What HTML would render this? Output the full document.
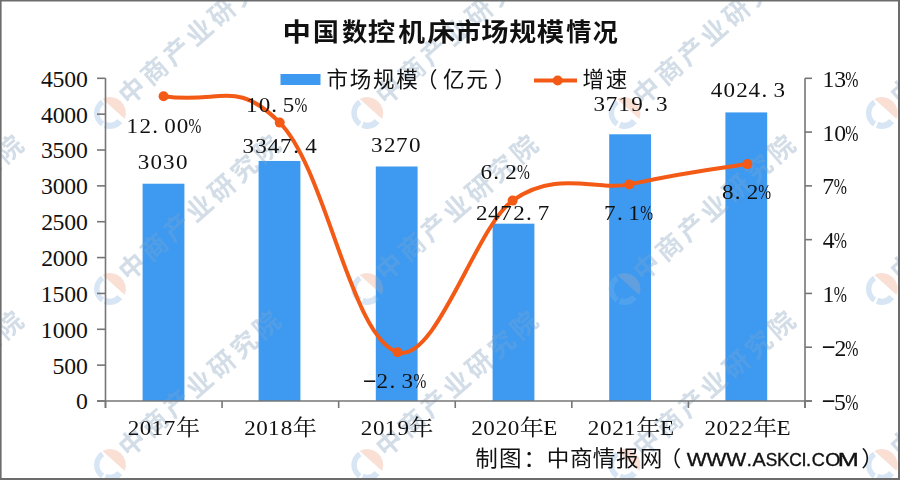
<!DOCTYPE html>
<html lang="zh-CN"><head><meta charset="utf-8"><title>中国数控机床市场规模情况</title>
<style>html,body{margin:0;padding:0;background:#fff;} svg{display:block;}</style>
</head><body>
<svg width="900" height="480" viewBox="0 0 900 480" fill="#111111"><rect x="0" y="0" width="900" height="480" fill="#ffffff"/>
<g opacity="0.42"><g transform="translate(-147.3,113.0)"><path d="M-7.5,-14.1 A16,16 0 0 1 14.8,6.0 Z" fill="#f0b49a"/><path d="M12.3,10.3 A16,16 0 0 1 -6.0,14.8 L-3.6,8.8 A9.5,9.5 0 0 0 7.3,6.1 Z" fill="#9fc2e4"/><path d="M-8.9,13.3 A16,16 0 0 1 -8.9,-13.3 L-5.9,-8.7 A10.5,10.5 0 0 0 -5.9,8.7 Z" fill="#9fc2e4"/><text transform="rotate(-41.1)" x="31.3 61.1 90.9 120.7 150.5 180.3 210.1" y="7.0" text-anchor="middle" font-family="'Liberation Sans','Noto Sans CJK SC',sans-serif" font-size="26" font-weight="bold" fill="#94aec6">中商产业研究院</text></g><g transform="translate(-147.3,289.0)"><path d="M-7.5,-14.1 A16,16 0 0 1 14.8,6.0 Z" fill="#f0b49a"/><path d="M12.3,10.3 A16,16 0 0 1 -6.0,14.8 L-3.6,8.8 A9.5,9.5 0 0 0 7.3,6.1 Z" fill="#9fc2e4"/><path d="M-8.9,13.3 A16,16 0 0 1 -8.9,-13.3 L-5.9,-8.7 A10.5,10.5 0 0 0 -5.9,8.7 Z" fill="#9fc2e4"/><text transform="rotate(-41.1)" x="31.3 61.1 90.9 120.7 150.5 180.3 210.1" y="7.0" text-anchor="middle" font-family="'Liberation Sans','Noto Sans CJK SC',sans-serif" font-size="26" font-weight="bold" fill="#94aec6">中商产业研究院</text></g><g transform="translate(-147.3,465.0)"><path d="M-7.5,-14.1 A16,16 0 0 1 14.8,6.0 Z" fill="#f0b49a"/><path d="M12.3,10.3 A16,16 0 0 1 -6.0,14.8 L-3.6,8.8 A9.5,9.5 0 0 0 7.3,6.1 Z" fill="#9fc2e4"/><path d="M-8.9,13.3 A16,16 0 0 1 -8.9,-13.3 L-5.9,-8.7 A10.5,10.5 0 0 0 -5.9,8.7 Z" fill="#9fc2e4"/><text transform="rotate(-41.1)" x="31.3 61.1 90.9 120.7 150.5 180.3 210.1" y="7.0" text-anchor="middle" font-family="'Liberation Sans','Noto Sans CJK SC',sans-serif" font-size="26" font-weight="bold" fill="#94aec6">中商产业研究院</text></g><g transform="translate(110.0,113.0)"><path d="M-7.5,-14.1 A16,16 0 0 1 14.8,6.0 Z" fill="#f0b49a"/><path d="M12.3,10.3 A16,16 0 0 1 -6.0,14.8 L-3.6,8.8 A9.5,9.5 0 0 0 7.3,6.1 Z" fill="#9fc2e4"/><path d="M-8.9,13.3 A16,16 0 0 1 -8.9,-13.3 L-5.9,-8.7 A10.5,10.5 0 0 0 -5.9,8.7 Z" fill="#9fc2e4"/><text transform="rotate(-41.1)" x="31.3 61.1 90.9 120.7 150.5 180.3 210.1" y="7.0" text-anchor="middle" font-family="'Liberation Sans','Noto Sans CJK SC',sans-serif" font-size="26" font-weight="bold" fill="#94aec6">中商产业研究院</text></g><g transform="translate(110.0,289.0)"><path d="M-7.5,-14.1 A16,16 0 0 1 14.8,6.0 Z" fill="#f0b49a"/><path d="M12.3,10.3 A16,16 0 0 1 -6.0,14.8 L-3.6,8.8 A9.5,9.5 0 0 0 7.3,6.1 Z" fill="#9fc2e4"/><path d="M-8.9,13.3 A16,16 0 0 1 -8.9,-13.3 L-5.9,-8.7 A10.5,10.5 0 0 0 -5.9,8.7 Z" fill="#9fc2e4"/><text transform="rotate(-41.1)" x="31.3 61.1 90.9 120.7 150.5 180.3 210.1" y="7.0" text-anchor="middle" font-family="'Liberation Sans','Noto Sans CJK SC',sans-serif" font-size="26" font-weight="bold" fill="#94aec6">中商产业研究院</text></g><g transform="translate(110.0,465.0)"><path d="M-7.5,-14.1 A16,16 0 0 1 14.8,6.0 Z" fill="#f0b49a"/><path d="M12.3,10.3 A16,16 0 0 1 -6.0,14.8 L-3.6,8.8 A9.5,9.5 0 0 0 7.3,6.1 Z" fill="#9fc2e4"/><path d="M-8.9,13.3 A16,16 0 0 1 -8.9,-13.3 L-5.9,-8.7 A10.5,10.5 0 0 0 -5.9,8.7 Z" fill="#9fc2e4"/><text transform="rotate(-41.1)" x="31.3 61.1 90.9 120.7 150.5 180.3 210.1" y="7.0" text-anchor="middle" font-family="'Liberation Sans','Noto Sans CJK SC',sans-serif" font-size="26" font-weight="bold" fill="#94aec6">中商产业研究院</text></g><g transform="translate(367.3,113.0)"><path d="M-7.5,-14.1 A16,16 0 0 1 14.8,6.0 Z" fill="#f0b49a"/><path d="M12.3,10.3 A16,16 0 0 1 -6.0,14.8 L-3.6,8.8 A9.5,9.5 0 0 0 7.3,6.1 Z" fill="#9fc2e4"/><path d="M-8.9,13.3 A16,16 0 0 1 -8.9,-13.3 L-5.9,-8.7 A10.5,10.5 0 0 0 -5.9,8.7 Z" fill="#9fc2e4"/><text transform="rotate(-41.1)" x="31.3 61.1 90.9 120.7 150.5 180.3 210.1" y="7.0" text-anchor="middle" font-family="'Liberation Sans','Noto Sans CJK SC',sans-serif" font-size="26" font-weight="bold" fill="#94aec6">中商产业研究院</text></g><g transform="translate(367.3,289.0)"><path d="M-7.5,-14.1 A16,16 0 0 1 14.8,6.0 Z" fill="#f0b49a"/><path d="M12.3,10.3 A16,16 0 0 1 -6.0,14.8 L-3.6,8.8 A9.5,9.5 0 0 0 7.3,6.1 Z" fill="#9fc2e4"/><path d="M-8.9,13.3 A16,16 0 0 1 -8.9,-13.3 L-5.9,-8.7 A10.5,10.5 0 0 0 -5.9,8.7 Z" fill="#9fc2e4"/><text transform="rotate(-41.1)" x="31.3 61.1 90.9 120.7 150.5 180.3 210.1" y="7.0" text-anchor="middle" font-family="'Liberation Sans','Noto Sans CJK SC',sans-serif" font-size="26" font-weight="bold" fill="#94aec6">中商产业研究院</text></g><g transform="translate(367.3,465.0)"><path d="M-7.5,-14.1 A16,16 0 0 1 14.8,6.0 Z" fill="#f0b49a"/><path d="M12.3,10.3 A16,16 0 0 1 -6.0,14.8 L-3.6,8.8 A9.5,9.5 0 0 0 7.3,6.1 Z" fill="#9fc2e4"/><path d="M-8.9,13.3 A16,16 0 0 1 -8.9,-13.3 L-5.9,-8.7 A10.5,10.5 0 0 0 -5.9,8.7 Z" fill="#9fc2e4"/><text transform="rotate(-41.1)" x="31.3 61.1 90.9 120.7 150.5 180.3 210.1" y="7.0" text-anchor="middle" font-family="'Liberation Sans','Noto Sans CJK SC',sans-serif" font-size="26" font-weight="bold" fill="#94aec6">中商产业研究院</text></g><g transform="translate(624.6,113.0)"><path d="M-7.5,-14.1 A16,16 0 0 1 14.8,6.0 Z" fill="#f0b49a"/><path d="M12.3,10.3 A16,16 0 0 1 -6.0,14.8 L-3.6,8.8 A9.5,9.5 0 0 0 7.3,6.1 Z" fill="#9fc2e4"/><path d="M-8.9,13.3 A16,16 0 0 1 -8.9,-13.3 L-5.9,-8.7 A10.5,10.5 0 0 0 -5.9,8.7 Z" fill="#9fc2e4"/><text transform="rotate(-41.1)" x="31.3 61.1 90.9 120.7 150.5 180.3 210.1" y="7.0" text-anchor="middle" font-family="'Liberation Sans','Noto Sans CJK SC',sans-serif" font-size="26" font-weight="bold" fill="#94aec6">中商产业研究院</text></g><g transform="translate(624.6,289.0)"><path d="M-7.5,-14.1 A16,16 0 0 1 14.8,6.0 Z" fill="#f0b49a"/><path d="M12.3,10.3 A16,16 0 0 1 -6.0,14.8 L-3.6,8.8 A9.5,9.5 0 0 0 7.3,6.1 Z" fill="#9fc2e4"/><path d="M-8.9,13.3 A16,16 0 0 1 -8.9,-13.3 L-5.9,-8.7 A10.5,10.5 0 0 0 -5.9,8.7 Z" fill="#9fc2e4"/><text transform="rotate(-41.1)" x="31.3 61.1 90.9 120.7 150.5 180.3 210.1" y="7.0" text-anchor="middle" font-family="'Liberation Sans','Noto Sans CJK SC',sans-serif" font-size="26" font-weight="bold" fill="#94aec6">中商产业研究院</text></g><g transform="translate(624.6,465.0)"><path d="M-7.5,-14.1 A16,16 0 0 1 14.8,6.0 Z" fill="#f0b49a"/><path d="M12.3,10.3 A16,16 0 0 1 -6.0,14.8 L-3.6,8.8 A9.5,9.5 0 0 0 7.3,6.1 Z" fill="#9fc2e4"/><path d="M-8.9,13.3 A16,16 0 0 1 -8.9,-13.3 L-5.9,-8.7 A10.5,10.5 0 0 0 -5.9,8.7 Z" fill="#9fc2e4"/><text transform="rotate(-41.1)" x="31.3 61.1 90.9 120.7 150.5 180.3 210.1" y="7.0" text-anchor="middle" font-family="'Liberation Sans','Noto Sans CJK SC',sans-serif" font-size="26" font-weight="bold" fill="#94aec6">中商产业研究院</text></g><g transform="translate(881.9,113.0)"><path d="M-7.5,-14.1 A16,16 0 0 1 14.8,6.0 Z" fill="#f0b49a"/><path d="M12.3,10.3 A16,16 0 0 1 -6.0,14.8 L-3.6,8.8 A9.5,9.5 0 0 0 7.3,6.1 Z" fill="#9fc2e4"/><path d="M-8.9,13.3 A16,16 0 0 1 -8.9,-13.3 L-5.9,-8.7 A10.5,10.5 0 0 0 -5.9,8.7 Z" fill="#9fc2e4"/><text transform="rotate(-41.1)" x="31.3 61.1 90.9 120.7 150.5 180.3 210.1" y="7.0" text-anchor="middle" font-family="'Liberation Sans','Noto Sans CJK SC',sans-serif" font-size="26" font-weight="bold" fill="#94aec6">中商产业研究院</text></g><g transform="translate(881.9,289.0)"><path d="M-7.5,-14.1 A16,16 0 0 1 14.8,6.0 Z" fill="#f0b49a"/><path d="M12.3,10.3 A16,16 0 0 1 -6.0,14.8 L-3.6,8.8 A9.5,9.5 0 0 0 7.3,6.1 Z" fill="#9fc2e4"/><path d="M-8.9,13.3 A16,16 0 0 1 -8.9,-13.3 L-5.9,-8.7 A10.5,10.5 0 0 0 -5.9,8.7 Z" fill="#9fc2e4"/><text transform="rotate(-41.1)" x="31.3 61.1 90.9 120.7 150.5 180.3 210.1" y="7.0" text-anchor="middle" font-family="'Liberation Sans','Noto Sans CJK SC',sans-serif" font-size="26" font-weight="bold" fill="#94aec6">中商产业研究院</text></g><g transform="translate(881.9,465.0)"><path d="M-7.5,-14.1 A16,16 0 0 1 14.8,6.0 Z" fill="#f0b49a"/><path d="M12.3,10.3 A16,16 0 0 1 -6.0,14.8 L-3.6,8.8 A9.5,9.5 0 0 0 7.3,6.1 Z" fill="#9fc2e4"/><path d="M-8.9,13.3 A16,16 0 0 1 -8.9,-13.3 L-5.9,-8.7 A10.5,10.5 0 0 0 -5.9,8.7 Z" fill="#9fc2e4"/><text transform="rotate(-41.1)" x="31.3 61.1 90.9 120.7 150.5 180.3 210.1" y="7.0" text-anchor="middle" font-family="'Liberation Sans','Noto Sans CJK SC',sans-serif" font-size="26" font-weight="bold" fill="#94aec6">中商产业研究院</text></g></g>
<rect x="142.60" y="183.72" width="41.8" height="217.28" fill="#3e9af0"/>
<rect x="258.60" y="160.95" width="41.8" height="240.05" fill="#3e9af0"/>
<rect x="375.80" y="166.50" width="41.8" height="234.50" fill="#3e9af0"/>
<rect x="492.60" y="223.68" width="41.8" height="177.32" fill="#3e9af0"/>
<rect x="609.20" y="134.28" width="41.8" height="266.72" fill="#3e9af0"/>
<rect x="725.40" y="112.41" width="41.8" height="288.59" fill="#3e9af0"/>
<clipPath id="bc"><rect x="142.60" y="183.72" width="41.8" height="217.28"/><rect x="258.60" y="160.95" width="41.8" height="240.05"/><rect x="375.80" y="166.50" width="41.8" height="234.50"/><rect x="492.60" y="223.68" width="41.8" height="177.32"/><rect x="609.20" y="134.28" width="41.8" height="266.72"/><rect x="725.40" y="112.41" width="41.8" height="288.59"/></clipPath>
<g clip-path="url(#bc)" opacity="0.2"><g transform="translate(-147.3,113.0)"><path d="M-7.5,-14.1 A16,16 0 0 1 14.8,6.0 Z" fill="#f0b49a"/><path d="M12.3,10.3 A16,16 0 0 1 -6.0,14.8 L-3.6,8.8 A9.5,9.5 0 0 0 7.3,6.1 Z" fill="#9fc2e4"/><path d="M-8.9,13.3 A16,16 0 0 1 -8.9,-13.3 L-5.9,-8.7 A10.5,10.5 0 0 0 -5.9,8.7 Z" fill="#9fc2e4"/><text transform="rotate(-41.1)" x="31.3 61.1 90.9 120.7 150.5 180.3 210.1" y="7.0" text-anchor="middle" font-family="'Liberation Sans','Noto Sans CJK SC',sans-serif" font-size="26" font-weight="bold" fill="#a0aec0">中商产业研究院</text></g><g transform="translate(-147.3,289.0)"><path d="M-7.5,-14.1 A16,16 0 0 1 14.8,6.0 Z" fill="#f0b49a"/><path d="M12.3,10.3 A16,16 0 0 1 -6.0,14.8 L-3.6,8.8 A9.5,9.5 0 0 0 7.3,6.1 Z" fill="#9fc2e4"/><path d="M-8.9,13.3 A16,16 0 0 1 -8.9,-13.3 L-5.9,-8.7 A10.5,10.5 0 0 0 -5.9,8.7 Z" fill="#9fc2e4"/><text transform="rotate(-41.1)" x="31.3 61.1 90.9 120.7 150.5 180.3 210.1" y="7.0" text-anchor="middle" font-family="'Liberation Sans','Noto Sans CJK SC',sans-serif" font-size="26" font-weight="bold" fill="#a0aec0">中商产业研究院</text></g><g transform="translate(-147.3,465.0)"><path d="M-7.5,-14.1 A16,16 0 0 1 14.8,6.0 Z" fill="#f0b49a"/><path d="M12.3,10.3 A16,16 0 0 1 -6.0,14.8 L-3.6,8.8 A9.5,9.5 0 0 0 7.3,6.1 Z" fill="#9fc2e4"/><path d="M-8.9,13.3 A16,16 0 0 1 -8.9,-13.3 L-5.9,-8.7 A10.5,10.5 0 0 0 -5.9,8.7 Z" fill="#9fc2e4"/><text transform="rotate(-41.1)" x="31.3 61.1 90.9 120.7 150.5 180.3 210.1" y="7.0" text-anchor="middle" font-family="'Liberation Sans','Noto Sans CJK SC',sans-serif" font-size="26" font-weight="bold" fill="#a0aec0">中商产业研究院</text></g><g transform="translate(110.0,113.0)"><path d="M-7.5,-14.1 A16,16 0 0 1 14.8,6.0 Z" fill="#f0b49a"/><path d="M12.3,10.3 A16,16 0 0 1 -6.0,14.8 L-3.6,8.8 A9.5,9.5 0 0 0 7.3,6.1 Z" fill="#9fc2e4"/><path d="M-8.9,13.3 A16,16 0 0 1 -8.9,-13.3 L-5.9,-8.7 A10.5,10.5 0 0 0 -5.9,8.7 Z" fill="#9fc2e4"/><text transform="rotate(-41.1)" x="31.3 61.1 90.9 120.7 150.5 180.3 210.1" y="7.0" text-anchor="middle" font-family="'Liberation Sans','Noto Sans CJK SC',sans-serif" font-size="26" font-weight="bold" fill="#a0aec0">中商产业研究院</text></g><g transform="translate(110.0,289.0)"><path d="M-7.5,-14.1 A16,16 0 0 1 14.8,6.0 Z" fill="#f0b49a"/><path d="M12.3,10.3 A16,16 0 0 1 -6.0,14.8 L-3.6,8.8 A9.5,9.5 0 0 0 7.3,6.1 Z" fill="#9fc2e4"/><path d="M-8.9,13.3 A16,16 0 0 1 -8.9,-13.3 L-5.9,-8.7 A10.5,10.5 0 0 0 -5.9,8.7 Z" fill="#9fc2e4"/><text transform="rotate(-41.1)" x="31.3 61.1 90.9 120.7 150.5 180.3 210.1" y="7.0" text-anchor="middle" font-family="'Liberation Sans','Noto Sans CJK SC',sans-serif" font-size="26" font-weight="bold" fill="#a0aec0">中商产业研究院</text></g><g transform="translate(110.0,465.0)"><path d="M-7.5,-14.1 A16,16 0 0 1 14.8,6.0 Z" fill="#f0b49a"/><path d="M12.3,10.3 A16,16 0 0 1 -6.0,14.8 L-3.6,8.8 A9.5,9.5 0 0 0 7.3,6.1 Z" fill="#9fc2e4"/><path d="M-8.9,13.3 A16,16 0 0 1 -8.9,-13.3 L-5.9,-8.7 A10.5,10.5 0 0 0 -5.9,8.7 Z" fill="#9fc2e4"/><text transform="rotate(-41.1)" x="31.3 61.1 90.9 120.7 150.5 180.3 210.1" y="7.0" text-anchor="middle" font-family="'Liberation Sans','Noto Sans CJK SC',sans-serif" font-size="26" font-weight="bold" fill="#a0aec0">中商产业研究院</text></g><g transform="translate(367.3,113.0)"><path d="M-7.5,-14.1 A16,16 0 0 1 14.8,6.0 Z" fill="#f0b49a"/><path d="M12.3,10.3 A16,16 0 0 1 -6.0,14.8 L-3.6,8.8 A9.5,9.5 0 0 0 7.3,6.1 Z" fill="#9fc2e4"/><path d="M-8.9,13.3 A16,16 0 0 1 -8.9,-13.3 L-5.9,-8.7 A10.5,10.5 0 0 0 -5.9,8.7 Z" fill="#9fc2e4"/><text transform="rotate(-41.1)" x="31.3 61.1 90.9 120.7 150.5 180.3 210.1" y="7.0" text-anchor="middle" font-family="'Liberation Sans','Noto Sans CJK SC',sans-serif" font-size="26" font-weight="bold" fill="#a0aec0">中商产业研究院</text></g><g transform="translate(367.3,289.0)"><path d="M-7.5,-14.1 A16,16 0 0 1 14.8,6.0 Z" fill="#f0b49a"/><path d="M12.3,10.3 A16,16 0 0 1 -6.0,14.8 L-3.6,8.8 A9.5,9.5 0 0 0 7.3,6.1 Z" fill="#9fc2e4"/><path d="M-8.9,13.3 A16,16 0 0 1 -8.9,-13.3 L-5.9,-8.7 A10.5,10.5 0 0 0 -5.9,8.7 Z" fill="#9fc2e4"/><text transform="rotate(-41.1)" x="31.3 61.1 90.9 120.7 150.5 180.3 210.1" y="7.0" text-anchor="middle" font-family="'Liberation Sans','Noto Sans CJK SC',sans-serif" font-size="26" font-weight="bold" fill="#a0aec0">中商产业研究院</text></g><g transform="translate(367.3,465.0)"><path d="M-7.5,-14.1 A16,16 0 0 1 14.8,6.0 Z" fill="#f0b49a"/><path d="M12.3,10.3 A16,16 0 0 1 -6.0,14.8 L-3.6,8.8 A9.5,9.5 0 0 0 7.3,6.1 Z" fill="#9fc2e4"/><path d="M-8.9,13.3 A16,16 0 0 1 -8.9,-13.3 L-5.9,-8.7 A10.5,10.5 0 0 0 -5.9,8.7 Z" fill="#9fc2e4"/><text transform="rotate(-41.1)" x="31.3 61.1 90.9 120.7 150.5 180.3 210.1" y="7.0" text-anchor="middle" font-family="'Liberation Sans','Noto Sans CJK SC',sans-serif" font-size="26" font-weight="bold" fill="#a0aec0">中商产业研究院</text></g><g transform="translate(624.6,113.0)"><path d="M-7.5,-14.1 A16,16 0 0 1 14.8,6.0 Z" fill="#f0b49a"/><path d="M12.3,10.3 A16,16 0 0 1 -6.0,14.8 L-3.6,8.8 A9.5,9.5 0 0 0 7.3,6.1 Z" fill="#9fc2e4"/><path d="M-8.9,13.3 A16,16 0 0 1 -8.9,-13.3 L-5.9,-8.7 A10.5,10.5 0 0 0 -5.9,8.7 Z" fill="#9fc2e4"/><text transform="rotate(-41.1)" x="31.3 61.1 90.9 120.7 150.5 180.3 210.1" y="7.0" text-anchor="middle" font-family="'Liberation Sans','Noto Sans CJK SC',sans-serif" font-size="26" font-weight="bold" fill="#a0aec0">中商产业研究院</text></g><g transform="translate(624.6,289.0)"><path d="M-7.5,-14.1 A16,16 0 0 1 14.8,6.0 Z" fill="#f0b49a"/><path d="M12.3,10.3 A16,16 0 0 1 -6.0,14.8 L-3.6,8.8 A9.5,9.5 0 0 0 7.3,6.1 Z" fill="#9fc2e4"/><path d="M-8.9,13.3 A16,16 0 0 1 -8.9,-13.3 L-5.9,-8.7 A10.5,10.5 0 0 0 -5.9,8.7 Z" fill="#9fc2e4"/><text transform="rotate(-41.1)" x="31.3 61.1 90.9 120.7 150.5 180.3 210.1" y="7.0" text-anchor="middle" font-family="'Liberation Sans','Noto Sans CJK SC',sans-serif" font-size="26" font-weight="bold" fill="#a0aec0">中商产业研究院</text></g><g transform="translate(624.6,465.0)"><path d="M-7.5,-14.1 A16,16 0 0 1 14.8,6.0 Z" fill="#f0b49a"/><path d="M12.3,10.3 A16,16 0 0 1 -6.0,14.8 L-3.6,8.8 A9.5,9.5 0 0 0 7.3,6.1 Z" fill="#9fc2e4"/><path d="M-8.9,13.3 A16,16 0 0 1 -8.9,-13.3 L-5.9,-8.7 A10.5,10.5 0 0 0 -5.9,8.7 Z" fill="#9fc2e4"/><text transform="rotate(-41.1)" x="31.3 61.1 90.9 120.7 150.5 180.3 210.1" y="7.0" text-anchor="middle" font-family="'Liberation Sans','Noto Sans CJK SC',sans-serif" font-size="26" font-weight="bold" fill="#a0aec0">中商产业研究院</text></g><g transform="translate(881.9,113.0)"><path d="M-7.5,-14.1 A16,16 0 0 1 14.8,6.0 Z" fill="#f0b49a"/><path d="M12.3,10.3 A16,16 0 0 1 -6.0,14.8 L-3.6,8.8 A9.5,9.5 0 0 0 7.3,6.1 Z" fill="#9fc2e4"/><path d="M-8.9,13.3 A16,16 0 0 1 -8.9,-13.3 L-5.9,-8.7 A10.5,10.5 0 0 0 -5.9,8.7 Z" fill="#9fc2e4"/><text transform="rotate(-41.1)" x="31.3 61.1 90.9 120.7 150.5 180.3 210.1" y="7.0" text-anchor="middle" font-family="'Liberation Sans','Noto Sans CJK SC',sans-serif" font-size="26" font-weight="bold" fill="#a0aec0">中商产业研究院</text></g><g transform="translate(881.9,289.0)"><path d="M-7.5,-14.1 A16,16 0 0 1 14.8,6.0 Z" fill="#f0b49a"/><path d="M12.3,10.3 A16,16 0 0 1 -6.0,14.8 L-3.6,8.8 A9.5,9.5 0 0 0 7.3,6.1 Z" fill="#9fc2e4"/><path d="M-8.9,13.3 A16,16 0 0 1 -8.9,-13.3 L-5.9,-8.7 A10.5,10.5 0 0 0 -5.9,8.7 Z" fill="#9fc2e4"/><text transform="rotate(-41.1)" x="31.3 61.1 90.9 120.7 150.5 180.3 210.1" y="7.0" text-anchor="middle" font-family="'Liberation Sans','Noto Sans CJK SC',sans-serif" font-size="26" font-weight="bold" fill="#a0aec0">中商产业研究院</text></g><g transform="translate(881.9,465.0)"><path d="M-7.5,-14.1 A16,16 0 0 1 14.8,6.0 Z" fill="#f0b49a"/><path d="M12.3,10.3 A16,16 0 0 1 -6.0,14.8 L-3.6,8.8 A9.5,9.5 0 0 0 7.3,6.1 Z" fill="#9fc2e4"/><path d="M-8.9,13.3 A16,16 0 0 1 -8.9,-13.3 L-5.9,-8.7 A10.5,10.5 0 0 0 -5.9,8.7 Z" fill="#9fc2e4"/><text transform="rotate(-41.1)" x="31.3 61.1 90.9 120.7 150.5 180.3 210.1" y="7.0" text-anchor="middle" font-family="'Liberation Sans','Noto Sans CJK SC',sans-serif" font-size="26" font-weight="bold" fill="#a0aec0">中商产业研究院</text></g></g>
<g stroke="#767676" stroke-width="1.6" fill="none">
<line x1="105.5" y1="78.3" x2="105.5" y2="408.0"/>
<line x1="805.0" y1="78.3" x2="805.0" y2="408.0"/>
<line x1="97.0" y1="401.0" x2="812.0" y2="401.0"/>
<line x1="97.0" y1="401.00" x2="105.5" y2="401.00"/>
<line x1="97.0" y1="365.14" x2="105.5" y2="365.14"/>
<line x1="97.0" y1="329.29" x2="105.5" y2="329.29"/>
<line x1="97.0" y1="293.43" x2="105.5" y2="293.43"/>
<line x1="97.0" y1="257.58" x2="105.5" y2="257.58"/>
<line x1="97.0" y1="221.72" x2="105.5" y2="221.72"/>
<line x1="97.0" y1="185.87" x2="105.5" y2="185.87"/>
<line x1="97.0" y1="150.01" x2="105.5" y2="150.01"/>
<line x1="97.0" y1="114.16" x2="105.5" y2="114.16"/>
<line x1="97.0" y1="78.30" x2="105.5" y2="78.30"/>
<line x1="805.0" y1="401.00" x2="812.0" y2="401.00"/>
<line x1="805.0" y1="347.22" x2="812.0" y2="347.22"/>
<line x1="805.0" y1="293.43" x2="812.0" y2="293.43"/>
<line x1="805.0" y1="239.65" x2="812.0" y2="239.65"/>
<line x1="805.0" y1="185.87" x2="812.0" y2="185.87"/>
<line x1="805.0" y1="132.08" x2="812.0" y2="132.08"/>
<line x1="805.0" y1="78.30" x2="812.0" y2="78.30"/>
<line x1="105.50" y1="401.0" x2="105.50" y2="408.0"/>
<line x1="222.08" y1="401.0" x2="222.08" y2="408.0"/>
<line x1="338.67" y1="401.0" x2="338.67" y2="408.0"/>
<line x1="455.25" y1="401.0" x2="455.25" y2="408.0"/>
<line x1="571.83" y1="401.0" x2="571.83" y2="408.0"/>
<line x1="688.42" y1="401.0" x2="688.42" y2="408.0"/>
<line x1="805.00" y1="401.0" x2="805.00" y2="408.0"/>
</g>
<path d="M163.60,96.20 C219.90,104.90 234.59,77.41 279.70,122.60 C326.07,169.06 350.86,337.91 397.50,352.20 C435.93,363.98 475.75,226.73 512.60,200.60 C557.13,169.04 596.67,191.53 629.30,184.40 C684.57,172.32 720.12,168.02 747.40,164.10" fill="none" stroke="#f25a16" stroke-width="4" stroke-linecap="round"/>
<circle cx="163.60" cy="96.20" r="5" fill="#f25a16"/>
<circle cx="279.70" cy="122.60" r="5" fill="#f25a16"/>
<circle cx="397.50" cy="352.20" r="5" fill="#f25a16"/>
<circle cx="512.60" cy="200.60" r="5" fill="#f25a16"/>
<circle cx="629.30" cy="184.40" r="5" fill="#f25a16"/>
<circle cx="747.40" cy="164.10" r="5" fill="#f25a16"/>
<text transform="translate(0 409.40) scale(1.05 1)" x="77.95" y="0" text-anchor="middle" font-family="'Liberation Serif','Noto Serif CJK SC',serif" font-size="22.6">0</text>
<text transform="translate(0 373.54) scale(1.05 1)" x="55.61 66.90 77.95" y="0" text-anchor="middle" font-family="'Liberation Serif','Noto Serif CJK SC',serif" font-size="22.6">500</text>
<text transform="translate(0 337.69) scale(1.05 1)" x="44.56 55.86 66.90 77.95" y="0" text-anchor="middle" font-family="'Liberation Serif','Noto Serif CJK SC',serif" font-size="22.6">1000</text>
<text transform="translate(0 301.83) scale(1.05 1)" x="44.56 55.61 66.90 77.95" y="0" text-anchor="middle" font-family="'Liberation Serif','Noto Serif CJK SC',serif" font-size="22.6">1500</text>
<text transform="translate(0 265.98) scale(1.05 1)" x="44.93 55.86 66.90 77.95" y="0" text-anchor="middle" font-family="'Liberation Serif','Noto Serif CJK SC',serif" font-size="22.6">2000</text>
<text transform="translate(0 230.12) scale(1.05 1)" x="44.93 55.61 66.90 77.95" y="0" text-anchor="middle" font-family="'Liberation Serif','Noto Serif CJK SC',serif" font-size="22.6">2500</text>
<text transform="translate(0 194.27) scale(1.05 1)" x="44.68 55.86 66.90 77.95" y="0" text-anchor="middle" font-family="'Liberation Serif','Noto Serif CJK SC',serif" font-size="22.6">3000</text>
<text transform="translate(0 158.41) scale(1.05 1)" x="44.68 55.61 66.90 77.95" y="0" text-anchor="middle" font-family="'Liberation Serif','Noto Serif CJK SC',serif" font-size="22.6">3500</text>
<text transform="translate(0 122.56) scale(1.05 1)" x="44.81 55.86 66.90 77.95" y="0" text-anchor="middle" font-family="'Liberation Serif','Noto Serif CJK SC',serif" font-size="22.6">4000</text>
<text transform="translate(0 86.70) scale(1.05 1)" x="44.81 55.61 66.90 77.95" y="0" text-anchor="middle" font-family="'Liberation Serif','Noto Serif CJK SC',serif" font-size="22.6">4500</text>
<text transform="translate(0 407.20) scale(1.945 1)" x="426.02" y="0" text-anchor="middle" font-family="'Liberation Serif','Noto Serif CJK SC',serif" font-size="22.6">-</text><text transform="translate(0 409.60) scale(1.05 1)" x="799.94" y="0" text-anchor="middle" font-family="'Liberation Serif','Noto Serif CJK SC',serif" font-size="22.6">5</text><text transform="translate(0 409.60) scale(0.7 1)" x="1216.98" y="0" text-anchor="middle" font-family="'Liberation Serif','Noto Serif CJK SC',serif" font-size="22.6">%</text>
<text transform="translate(0 353.42) scale(1.945 1)" x="426.02" y="0" text-anchor="middle" font-family="'Liberation Serif','Noto Serif CJK SC',serif" font-size="22.6">-</text><text transform="translate(0 355.82) scale(1.05 1)" x="800.32" y="0" text-anchor="middle" font-family="'Liberation Serif','Noto Serif CJK SC',serif" font-size="22.6">2</text><text transform="translate(0 355.82) scale(0.7 1)" x="1216.98" y="0" text-anchor="middle" font-family="'Liberation Serif','Noto Serif CJK SC',serif" font-size="22.6">%</text>
<text transform="translate(0 302.03) scale(1.05 1)" x="788.89" y="0" text-anchor="middle" font-family="'Liberation Serif','Noto Serif CJK SC',serif" font-size="22.6">1</text><text transform="translate(0 302.03) scale(0.7 1)" x="1200.41" y="0" text-anchor="middle" font-family="'Liberation Serif','Noto Serif CJK SC',serif" font-size="22.6">%</text>
<text transform="translate(0 248.25) scale(1.05 1)" x="789.14" y="0" text-anchor="middle" font-family="'Liberation Serif','Noto Serif CJK SC',serif" font-size="22.6">4</text><text transform="translate(0 248.25) scale(0.7 1)" x="1200.41" y="0" text-anchor="middle" font-family="'Liberation Serif','Noto Serif CJK SC',serif" font-size="22.6">%</text>
<text transform="translate(0 194.47) scale(1.05 1)" x="788.77" y="0" text-anchor="middle" font-family="'Liberation Serif','Noto Serif CJK SC',serif" font-size="22.6">7</text><text transform="translate(0 194.47) scale(0.7 1)" x="1200.41" y="0" text-anchor="middle" font-family="'Liberation Serif','Noto Serif CJK SC',serif" font-size="22.6">%</text>
<text transform="translate(0 140.68) scale(1.05 1)" x="788.89 800.19" y="0" text-anchor="middle" font-family="'Liberation Serif','Noto Serif CJK SC',serif" font-size="22.6">10</text><text transform="translate(0 140.68) scale(0.7 1)" x="1216.98" y="0" text-anchor="middle" font-family="'Liberation Serif','Noto Serif CJK SC',serif" font-size="22.6">%</text>
<text transform="translate(0 86.90) scale(1.05 1)" x="788.89 800.07" y="0" text-anchor="middle" font-family="'Liberation Serif','Noto Serif CJK SC',serif" font-size="22.6">13</text><text transform="translate(0 86.90) scale(0.7 1)" x="1216.98" y="0" text-anchor="middle" font-family="'Liberation Serif','Noto Serif CJK SC',serif" font-size="22.6">%</text>
<text transform="translate(0 132.70) scale(1.05 1)" x="125.96 138.32 147.67 161.90 173.76" y="0" text-anchor="middle" font-family="'Liberation Serif','Noto Serif CJK SC',serif" font-size="22">12.00</text><text transform="translate(0 132.70) scale(0.7 1)" x="278.43" y="0" text-anchor="middle" font-family="'Liberation Serif','Noto Serif CJK SC',serif" font-size="22">%</text>
<text transform="translate(0 168.90) scale(1.05 1)" x="136.73 148.92 160.86 173.05" y="0" text-anchor="middle" font-family="'Liberation Serif','Noto Serif CJK SC',serif" font-size="22">3030</text>
<text transform="translate(0 111.80) scale(1.05 1)" x="239.86 251.85 261.07 274.81" y="0" text-anchor="middle" font-family="'Liberation Serif','Noto Serif CJK SC',serif" font-size="22">10.5</text><text transform="translate(0 111.80) scale(0.7 1)" x="430.00" y="0" text-anchor="middle" font-family="'Liberation Serif','Noto Serif CJK SC',serif" font-size="22">%</text>
<text transform="translate(0 152.70) scale(1.05 1)" x="236.54 248.48 260.43 272.12 282.06 296.26" y="0" text-anchor="middle" font-family="'Liberation Serif','Noto Serif CJK SC',serif" font-size="22">3347.4</text>
<text transform="translate(0 151.50) scale(1.05 1)" x="358.92 371.14 382.61 394.95" y="0" text-anchor="middle" font-family="'Liberation Serif','Noto Serif CJK SC',serif" font-size="22">3270</text>
<text transform="translate(0 385.90) scale(1.945 1)" x="190.05" y="0" text-anchor="middle" font-family="'Liberation Serif','Noto Serif CJK SC',serif" font-size="22">-</text><text transform="translate(0 388.30) scale(1.05 1)" x="364.14 373.60 387.82" y="0" text-anchor="middle" font-family="'Liberation Serif','Noto Serif CJK SC',serif" font-size="22">2.3</text><text transform="translate(0 388.30) scale(0.7 1)" x="599.86" y="0" text-anchor="middle" font-family="'Liberation Serif','Noto Serif CJK SC',serif" font-size="22">%</text>
<text transform="translate(0 179.30) scale(1.05 1)" x="463.11 472.57 486.79" y="0" text-anchor="middle" font-family="'Liberation Serif','Noto Serif CJK SC',serif" font-size="22">6.2</text><text transform="translate(0 179.30) scale(0.7 1)" x="747.57" y="0" text-anchor="middle" font-family="'Liberation Serif','Noto Serif CJK SC',serif" font-size="22">%</text>
<text transform="translate(0 220.10) scale(1.05 1)" x="458.79 470.39 481.99 494.33 503.68 517.53" y="0" text-anchor="middle" font-family="'Liberation Serif','Noto Serif CJK SC',serif" font-size="22">2472.7</text>
<text transform="translate(0 220.00) scale(1.05 1)" x="580.77 590.35 603.94" y="0" text-anchor="middle" font-family="'Liberation Serif','Noto Serif CJK SC',serif" font-size="22">7.1</text><text transform="translate(0 220.00) scale(0.7 1)" x="923.86" y="0" text-anchor="middle" font-family="'Liberation Serif','Noto Serif CJK SC',serif" font-size="22">%</text>
<text transform="translate(0 111.40) scale(1.05 1)" x="570.73 582.41 594.33 606.75 616.17 630.35" y="0" text-anchor="middle" font-family="'Liberation Serif','Noto Serif CJK SC',serif" font-size="22">3719.3</text>
<text transform="translate(0 199.30) scale(1.05 1)" x="693.24 702.51 716.66" y="0" text-anchor="middle" font-family="'Liberation Serif','Noto Serif CJK SC',serif" font-size="22">8.2</text><text transform="translate(0 199.30) scale(0.7 1)" x="1092.29" y="0" text-anchor="middle" font-family="'Liberation Serif','Noto Serif CJK SC',serif" font-size="22">%</text>
<text transform="translate(0 97.30) scale(1.05 1)" x="682.45 694.51 706.58 718.27 727.96 742.16" y="0" text-anchor="middle" font-family="'Liberation Serif','Noto Serif CJK SC',serif" font-size="22">4024.3</text>
<text transform="translate(0 435.30) scale(1.05 1)" x="127.07 138.56 149.81 161.43" y="0" text-anchor="middle" font-family="'Liberation Serif','Noto Serif CJK SC',serif" font-size="22">2017</text><text transform="translate(0 435.30) scale(1.1 1)" x="171.08" y="0" text-anchor="middle" font-family="'Liberation Serif','Noto Serif CJK SC',serif" font-size="22">年</text>
<text transform="translate(0 435.30) scale(1.05 1)" x="238.10 249.60 260.84 272.83" y="0" text-anchor="middle" font-family="'Liberation Serif','Noto Serif CJK SC',serif" font-size="22">2018</text><text transform="translate(0 435.30) scale(1.1 1)" x="277.07" y="0" text-anchor="middle" font-family="'Liberation Serif','Noto Serif CJK SC',serif" font-size="22">年</text>
<text transform="translate(0 435.30) scale(1.05 1)" x="349.13 360.63 371.87 383.99" y="0" text-anchor="middle" font-family="'Liberation Serif','Noto Serif CJK SC',serif" font-size="22">2019</text><text transform="translate(0 435.30) scale(1.1 1)" x="383.05" y="0" text-anchor="middle" font-family="'Liberation Serif','Noto Serif CJK SC',serif" font-size="22">年</text>
<text transform="translate(0 435.30) scale(1.05 1)" x="454.36 465.85 477.59 489.09" y="0" text-anchor="middle" font-family="'Liberation Serif','Noto Serif CJK SC',serif" font-size="22">2020</text><text transform="translate(0 435.30) scale(1.1 1)" x="483.49" y="0" text-anchor="middle" font-family="'Liberation Serif','Noto Serif CJK SC',serif" font-size="22">年</text><text transform="translate(0 435.30) scale(1.05 1)" x="524.19" y="0" text-anchor="middle" font-family="'Liberation Serif','Noto Serif CJK SC',serif" font-size="22">E</text>
<text transform="translate(0 435.30) scale(1.05 1)" x="565.39 576.88 588.63 599.74" y="0" text-anchor="middle" font-family="'Liberation Serif','Noto Serif CJK SC',serif" font-size="22">2021</text><text transform="translate(0 435.30) scale(1.1 1)" x="589.48" y="0" text-anchor="middle" font-family="'Liberation Serif','Noto Serif CJK SC',serif" font-size="22">年</text><text transform="translate(0 435.30) scale(1.05 1)" x="635.23" y="0" text-anchor="middle" font-family="'Liberation Serif','Noto Serif CJK SC',serif" font-size="22">E</text>
<text transform="translate(0 435.30) scale(1.05 1)" x="676.42 687.91 699.66 711.28" y="0" text-anchor="middle" font-family="'Liberation Serif','Noto Serif CJK SC',serif" font-size="22">2022</text><text transform="translate(0 435.30) scale(1.1 1)" x="695.46" y="0" text-anchor="middle" font-family="'Liberation Serif','Noto Serif CJK SC',serif" font-size="22">年</text><text transform="translate(0 435.30) scale(1.05 1)" x="746.26" y="0" text-anchor="middle" font-family="'Liberation Serif','Noto Serif CJK SC',serif" font-size="22">E</text>
<text transform="translate(0 41.00) scale(1.137 1)" x="260.91" y="0" text-anchor="middle" font-family="'Liberation Sans','Noto Sans CJK SC',sans-serif" font-size="25" font-weight="bold">中</text><text transform="translate(0 41.00) scale(1.033 1)" x="315.44" y="0" text-anchor="middle" font-family="'Liberation Sans','Noto Sans CJK SC',sans-serif" font-size="25" font-weight="bold">国</text><text transform="translate(0 41.00) scale(1.011 1)" x="350.72" y="0" text-anchor="middle" font-family="'Liberation Sans','Noto Sans CJK SC',sans-serif" font-size="25" font-weight="bold">数</text><text transform="translate(0 41.00) scale(1.106 1)" x="345.12" y="0" text-anchor="middle" font-family="'Liberation Sans','Noto Sans CJK SC',sans-serif" font-size="25" font-weight="bold">控</text><text transform="translate(0 41.00) scale(1.072 1)" x="383.92" y="0" text-anchor="middle" font-family="'Liberation Sans','Noto Sans CJK SC',sans-serif" font-size="25" font-weight="bold">机</text><text transform="translate(0 41.00) scale(1.113 1)" x="396.50" y="0" text-anchor="middle" font-family="'Liberation Sans','Noto Sans CJK SC',sans-serif" font-size="25" font-weight="bold">床</text><text transform="translate(0 41.00) scale(1.013 1)" x="462.29" y="0" text-anchor="middle" font-family="'Liberation Sans','Noto Sans CJK SC',sans-serif" font-size="25" font-weight="bold">市</text><text transform="translate(0 41.00) scale(1.088 1)" x="454.81" y="0" text-anchor="middle" font-family="'Liberation Sans','Noto Sans CJK SC',sans-serif" font-size="25" font-weight="bold">场</text><text transform="translate(0 41.00) scale(1.077 1)" x="485.33" y="0" text-anchor="middle" font-family="'Liberation Sans','Noto Sans CJK SC',sans-serif" font-size="25" font-weight="bold">规</text><text transform="translate(0 41.00) scale(1.095 1)" x="502.68" y="0" text-anchor="middle" font-family="'Liberation Sans','Noto Sans CJK SC',sans-serif" font-size="25" font-weight="bold">模</text><text transform="translate(0 41.00) scale(1.006 1)" x="575.27" y="0" text-anchor="middle" font-family="'Liberation Sans','Noto Sans CJK SC',sans-serif" font-size="25" font-weight="bold">情</text><text x="605.38" y="41.00" text-anchor="middle" font-family="'Liberation Sans','Noto Sans CJK SC',sans-serif" font-size="25" font-weight="bold">况</text>
<rect x="280.5" y="74" width="40" height="11" fill="#3e9af0"/>
<text x="337.15 360.45 383.75 407.05 426.70 453.65 476.95 505.00" y="87.30" text-anchor="middle" font-family="'Liberation Sans','Noto Sans CJK SC',sans-serif" font-size="21.5">市场规模（亿元）</text>
<line x1="534" y1="80.5" x2="577" y2="80.5" stroke="#f25a16" stroke-width="3.8"/>
<circle cx="557.7" cy="80.5" r="5" fill="#f25a16"/>
<text x="593.30 616.40" y="87.30" text-anchor="middle" font-family="'Liberation Sans','Noto Sans CJK SC',sans-serif" font-size="21.5">增速</text>
<text transform="translate(0 465.80) scale(1.05 1)" x="463.30 486.05 509.42 531.43 553.62 575.27 597.41 620.11 638.05 831.10" y="0" text-anchor="middle" font-family="'Liberation Sans','Noto Sans CJK SC',sans-serif" font-size="21.5">制图：中商情报网（）</text>
<text transform="translate(0 466.40) scale(1.159 1)" x="601.21 618.21 635.20" y="0" text-anchor="middle" font-family="'Liberation Sans','Noto Sans CJK SC',sans-serif" font-size="18.2" stroke="#111111" stroke-width="0.35">WWW</text><text x="749.38" y="466.40" text-anchor="middle" font-family="'Liberation Sans','Noto Sans CJK SC',sans-serif" font-size="18.2" stroke="#111111" stroke-width="0.35">.</text><text transform="translate(0 466.40) scale(1.083 1)" x="700.83" y="0" text-anchor="middle" font-family="'Liberation Sans','Noto Sans CJK SC',sans-serif" font-size="18.2" stroke="#111111" stroke-width="0.35">A</text><text transform="translate(0 466.40) scale(0.952 1)" x="810.40" y="0" text-anchor="middle" font-family="'Liberation Sans','Noto Sans CJK SC',sans-serif" font-size="18.2" stroke="#111111" stroke-width="0.35">S</text><text transform="translate(0 466.40) scale(1.024 1)" x="764.76" y="0" text-anchor="middle" font-family="'Liberation Sans','Noto Sans CJK SC',sans-serif" font-size="18.2" stroke="#111111" stroke-width="0.35">K</text><text transform="translate(0 466.40) scale(0.957 1)" x="831.24" y="0" text-anchor="middle" font-family="'Liberation Sans','Noto Sans CJK SC',sans-serif" font-size="18.2" stroke="#111111" stroke-width="0.35">C</text><text x="804.00 808.62 818.25" y="466.40" text-anchor="middle" font-family="'Liberation Sans','Noto Sans CJK SC',sans-serif" font-size="18.2" stroke="#111111" stroke-width="0.35">I.C</text><text transform="translate(0 466.40) scale(1.064 1)" x="782.61" y="0" text-anchor="middle" font-family="'Liberation Sans','Noto Sans CJK SC',sans-serif" font-size="18.2" stroke="#111111" stroke-width="0.35">O</text><text transform="translate(0 466.40) scale(1.392 1)" x="609.41" y="0" text-anchor="middle" font-family="'Liberation Sans','Noto Sans CJK SC',sans-serif" font-size="18.2" stroke="#111111" stroke-width="0.35">M</text>
<g fill="#6c6c6c"><rect x="0" y="0" width="900" height="1.5"/><rect x="0" y="0" width="1.6" height="480"/><rect x="898" y="0" width="2" height="480"/><rect x="0" y="478" width="900" height="2"/></g></svg>
</body></html>
